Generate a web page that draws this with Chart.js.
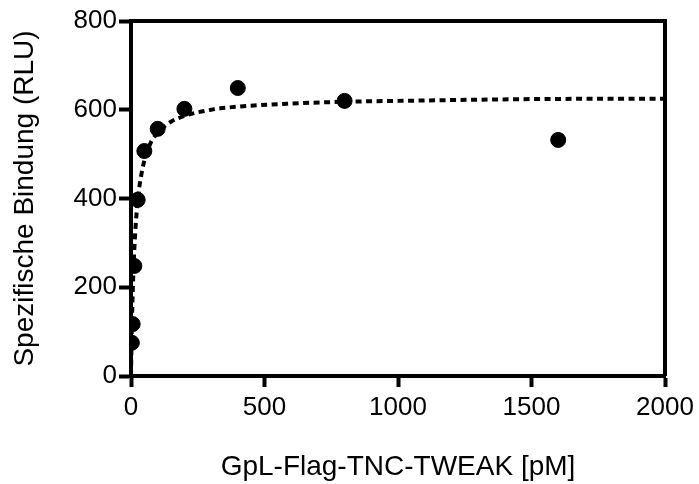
<!DOCTYPE html>
<html lang="de">
<head>
  <meta charset="UTF-8" />
  <title>Spezifische Bindung</title>
  <script src="https://cdn.jsdelivr.net/npm/chart.js@4/dist/chart.umd.min.js"></script>
  <style>
    * { box-sizing: border-box; margin: 0; padding: 0; }
    body { background: #fff; }
    .chart-wrapper { width: 699px; height: 484px; position: relative; }
  </style>
</head>
<body>
  <div class="chart-wrapper">
    <canvas id="bindingChart"></canvas>
  </div>

  <script>
    // Messpunkte (pM / RLU)
    const concentrations = [3.125, 6.25, 12.5, 25, 50, 100, 200, 400, 800, 1600];
    const bindingValues = [75, 117, 248, 397, 507, 557, 602, 649, 620, 532];

    const fitX = [0, 2, 5, 10, 15, 20, 30, 40, 50, 75, 100, 150, 200, 300, 400, 600, 800, 1000, 1500, 2000];
    const fitY = [0, 74, 157, 252, 315, 360, 420, 458, 485, 527, 548, 573, 586, 600, 607, 614, 618, 620, 624, 625];

    const xTicks = [0, 500, 1000, 1500, 2000];
    const yTicks = [0, 200, 400, 600, 800];

    const toPoints = (xs, ys) => xs.map((x, i) => ({ x: x, y: ys[i] }));

    // Rahmen oben und rechts
    const frame = {
      id: 'frame',
      afterDraw(chart) {
        const { ctx, chartArea: a } = chart;
        ctx.save();
        ctx.strokeStyle = '#000';
        ctx.lineWidth = 4;
        ctx.beginPath();
        ctx.moveTo(a.left, a.top);
        ctx.lineTo(a.right, a.top);
        ctx.lineTo(a.right, a.bottom);
        ctx.stroke();
        ctx.restore();
      }
    };

    const font = 'Liberation Sans, Arial, sans-serif';

    const ctx = document.getElementById('bindingChart').getContext('2d');
    new Chart(ctx, {
      type: 'scatter',
      data: {
        datasets: [
          {
            label: 'Fit',
            data: toPoints(fitX, fitY),
            showLine: true,
            borderColor: '#000',
            borderWidth: 4,
            borderDash: [6, 4.5],
            tension: 0.4,
            cubicInterpolationMode: 'monotone',
            pointRadius: 0
          },
          {
            label: 'Messwerte',
            data: toPoints(concentrations, bindingValues),
            backgroundColor: '#000',
            borderColor: '#000',
            pointRadius: 7.5,
            pointHoverRadius: 7.5
          }
        ]
      },
      options: {
        responsive: true,
        maintainAspectRatio: false,
        animation: false,
        layout: { padding: { top: 21, right: 34, left: 8, bottom: 0 } },
        plugins: { legend: { display: false }, tooltip: { enabled: false } },
        scales: {
          x: {
            type: 'linear',
            min: 0,
            max: 2000,
            afterBuildTicks: (s) => { s.ticks = xTicks.map(v => ({ value: v })); },
            afterFit: (s) => { s.height = 108; },
            border: { display: true, color: '#000', width: 4 },
            grid: { drawOnChartArea: false, drawTicks: true, tickLength: 11, tickColor: '#000', tickWidth: 4 },
            ticks: {
              color: '#000',
              padding: 5,
              font: { family: font, size: 26 },
              callback: (v) => String(v)
            },
            title: {
              display: true,
              text: 'GpL-Flag-TNC-TWEAK [pM]',
              color: '#000',
              font: { family: font, size: 28 },
              padding: { top: 16, bottom: 0 }
            }
          },
          y: {
            type: 'linear',
            min: 0,
            max: 800,
            afterBuildTicks: (s) => { s.ticks = yTicks.map(v => ({ value: v })); },
            afterFit: (s) => { s.width = 123; },
            border: { display: true, color: '#000', width: 4 },
            grid: { drawOnChartArea: false, drawTicks: true, tickLength: 12, tickColor: '#000', tickWidth: 4 },
            ticks: {
              color: '#000',
              padding: 2,
              font: { family: font, size: 26 },
              callback: (v) => String(v)
            },
            title: {
              display: true,
              text: 'Spezifische Bindung (RLU)',
              color: '#000',
              font: { family: font, size: 28 },
              padding: { top: 0, bottom: 4 }
            }
          }
        }
      },
      plugins: [frame]
    });
  </script>
</body>
</html>
